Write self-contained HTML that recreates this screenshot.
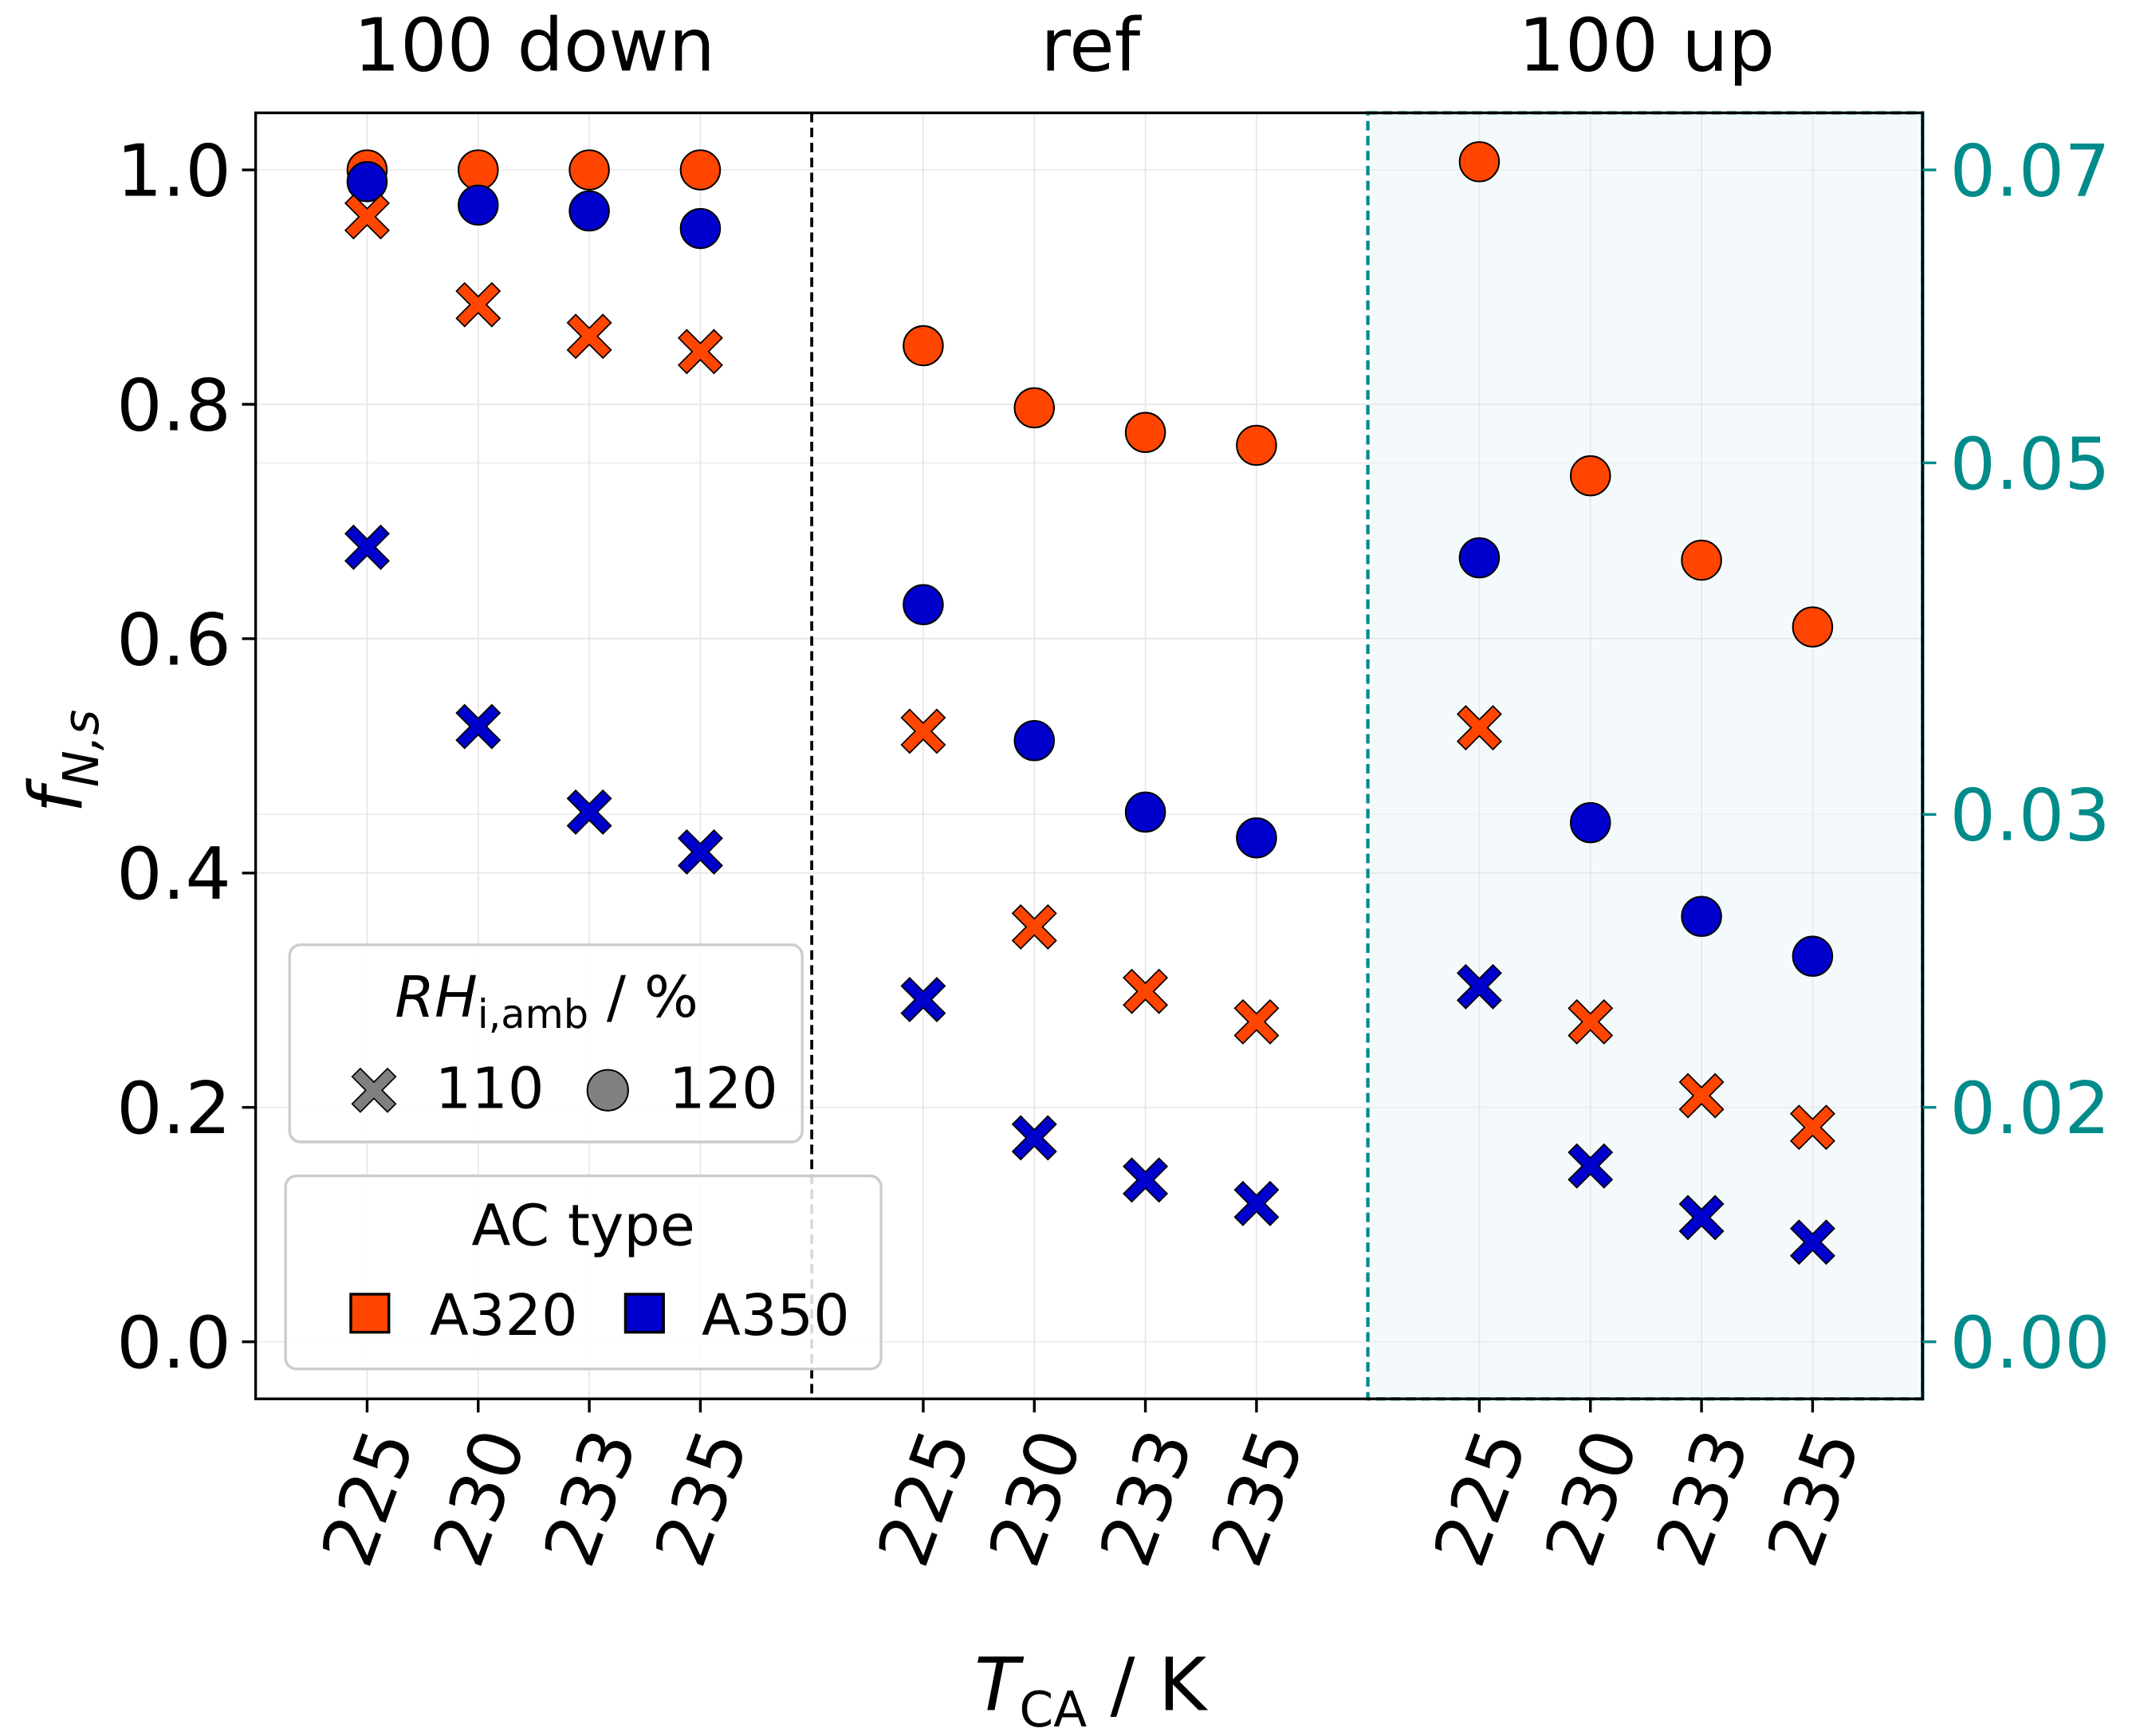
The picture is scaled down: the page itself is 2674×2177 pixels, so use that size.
<!DOCTYPE html>
<html><head><meta charset="utf-8"><style>
html,body{margin:0;padding:0;background:#fff}
svg{display:block}
text{font-family:"DejaVu Sans","Liberation Sans",sans-serif}
</style></head><body>
<svg id="chart" width="2674" height="2177" viewBox="0 0 1568 1277" preserveAspectRatio="none" xmlns="http://www.w3.org/2000/svg">
<rect x="0" y="0" width="1568" height="1277" fill="#fff"/>
<rect x="1006" y="83" width="408" height="946" fill="#f4fafb"/>
<g id="grid"></g>
<line x1="597" y1="83" x2="597" y2="1029" stroke="#000" stroke-width="2.2" stroke-dasharray="7,4"/>
<rect x="1006" y="83" width="408" height="946" fill="none" stroke="#008b8b" stroke-width="2.5" stroke-dasharray="7,4"/>
<line x1="1414" y1="83" x2="1414" y2="1029" stroke="#008b8b" stroke-width="2.5"/>
<rect x="188" y="83" width="1226" height="946" fill="none" stroke="#000" stroke-width="2"/>
<g id="axes"></g>
<g id="marks"></g>
<text x="393" y="52" font-size="54" text-anchor="middle">100 down</text>
<text x="802" y="52" font-size="54" text-anchor="middle">ref</text>
<text x="1211" y="52" font-size="54" text-anchor="middle">100 up</text>
<text transform="translate(60,560) rotate(-90)" font-size="54" text-anchor="middle"><tspan font-style="italic">f</tspan><tspan font-size="36" dy="12" font-style="italic">N,s</tspan></text>
<text x="802" y="1258" font-size="54" text-anchor="middle"><tspan font-style="italic">T</tspan><tspan font-size="36" dy="12">CA</tspan><tspan dy="-12"> / K</tspan></text>
<g>
<rect x="213" y="695" width="377" height="145" rx="8" fill="#fff" fill-opacity="0.85" stroke="#ccc" stroke-width="2"/>
<text x="402" y="748" font-size="42" text-anchor="middle"><tspan font-style="italic">RH</tspan><tspan font-size="29" dy="8">i,amb</tspan><tspan dy="-8"> / %</tspan></text>
<path d="M-10,-16 L0,-6 L10,-16 L16,-10 L6,0 L16,10 L10,16 L0,6 L-10,16 L-16,10 L-6,0 L-16,-10 Z" transform="translate(275,802)" fill="#808080" stroke="#000" stroke-width="1"/>
<text x="320" y="815" font-size="42">110</text>
<circle cx="447" cy="802" r="15" fill="#808080" stroke="#000" stroke-width="1.2"/>
<text x="492" y="815" font-size="42">120</text>
</g>
<g>
<rect x="210" y="865" width="438" height="142" rx="8" fill="#fff" fill-opacity="0.85" stroke="#ccc" stroke-width="2"/>
<text x="429" y="916" font-size="42" text-anchor="middle">AC type</text>
<rect x="258" y="952" width="28" height="28" fill="#ff4500" stroke="#000" stroke-width="2"/>
<text x="316" y="982" font-size="42">A320</text>
<rect x="460" y="952" width="28" height="28" fill="#0000cd" stroke="#000" stroke-width="2"/>
<text x="516" y="982" font-size="42">A350</text>
</g>
</svg>
<script>
const groups = ["100 down","ref","100 up"];
const temps = ["225","230","233","235"];
const yTicks = [0.0,0.2,0.4,0.6,0.8,1.0];
const yTickLabels = ["0.0","0.2","0.4","0.6","0.8","1.0"];
const rightTickPos = [0.0,0.2,0.45,0.75,1.0];
const rightTickLabels = ["0.00","0.02","0.03","0.05","0.07"];
const a320_120 = [1.0,1.0,1.0,1.0, 0.85,0.797,0.776,0.765, 1.007,0.739,0.667,0.610];
const a350_120 = [0.99,0.97,0.965,0.95, 0.629,0.513,0.452,0.430, 0.669,0.443,0.363,0.329];
const a320_110 = [0.96,0.885,0.858,0.845, 0.521,0.354,0.299,0.273, 0.524,0.273,0.210,0.183];
const a350_110 = [0.678,0.525,0.452,0.418, 0.292,0.174,0.138,0.118, 0.303,0.150,0.106,0.085];
const NS="http://www.w3.org/2000/svg";
function yS(v){return 987 - v*862;}
function xS(i){const g=Math.floor(i/4),k=i%4;return 270 + g*409 + k*81.7;}
function mk(tag,attrs,parent){const e=document.createElementNS(NS,tag);for(const a in attrs)e.setAttribute(a,attrs[a]);parent.appendChild(e);return e;}
const grid=document.getElementById('grid'),axes=document.getElementById('axes'),marks=document.getElementById('marks');
yTicks.forEach((v,i)=>{
 const l=mk('line',{x1:188,x2:1414,y1:yS(v),y2:yS(v),stroke:'#e6e6e6','stroke-width':1},grid);
 
 
 const t=mk('line',{x1:178,x2:188,y1:yS(v),y2:yS(v),stroke:'#000','stroke-width':2},axes);
 
 
 const tx=mk('text',{x:170,y:yS(v)+19,'font-size':53,'text-anchor':'end'},axes);
 tx.textContent=yTickLabels[i];
 
 
});
rightTickPos.forEach((v,i)=>{
 const l=mk('line',{x1:188,x2:1414,y1:yS(v),y2:yS(v),stroke:'#eeeeee','stroke-width':1},grid);
 
 
 const t=mk('line',{x1:1414,x2:1424,y1:yS(v),y2:yS(v),stroke:'#008b8b','stroke-width':2},axes);
 
 
 const tx=mk('text',{x:1434,y:yS(v)+19,'font-size':53,fill:'#008b8b'},axes);
 tx.textContent=rightTickLabels[i];
 
 
});
for(let i=0;i<groups.length*temps.length;i++){
 const x=xS(i);
 const l=mk('line',{x1:x,x2:x,y1:83,y2:1029,stroke:'#e6e6e6','stroke-width':1},grid);
 
 
 const t=mk('line',{x1:x,x2:x,y1:1029,y2:1039,stroke:'#000','stroke-width':2},axes);
 
 
 const tx=mk('text',{transform:`translate(${x+18},1108) rotate(-70)`,'font-size':53,'text-anchor':'middle'},axes);
 tx.textContent=temps[i%4];
 
 
}
const xPath="M-10,-16 L0,-6 L10,-16 L16,-10 L6,0 L16,10 L10,16 L0,6 L-10,16 L-16,10 L-6,0 L-16,-10 Z";
function drawX(arr,col,name){arr.forEach((v,i)=>{const p=mk('path',{d:xPath,transform:`translate(${xS(i)},${yS(v)})`,fill:col,stroke:'#000','stroke-width':1},marks);
 
 });}
function drawC(arr,col,name){arr.forEach((v,i)=>{const c=mk('circle',{cx:xS(i),cy:yS(v),r:14.5,fill:col,stroke:'#000','stroke-width':1.2},marks);
 
 });}
drawC(a320_120,'#ff4500','point-a320-120');
drawC(a350_120,'#0000cd','point-a350-120');
drawX(a320_110,'#ff4500','point-a320-110');
drawX(a350_110,'#0000cd','point-a350-110');
</script>
</body></html>
